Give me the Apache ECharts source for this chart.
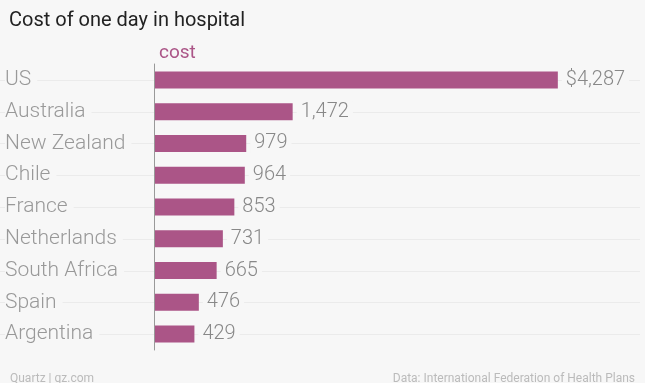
<!DOCTYPE html>
<html><head><meta charset="utf-8">
<script src="https://cdn.jsdelivr.net/npm/echarts@6/dist/echarts.min.js"></script>
<style>html,body{margin:0;padding:0;background:#f7f7f7}#c{width:645px;height:383px}</style>
</head><body><div id="c"></div>
<script>
const categories = ["US","Australia","New Zealand","Chile","France","Netherlands","South Africa","Spain","Argentina"];
const costs = [4287,1472,979,964,853,731,665,476,429];
const seriesName = "cost";
const BG = '#f7f7f7';
const BAR = '#ab5587';
const chart = echarts.init(document.getElementById('c'));
chart.setOption({
  backgroundColor: BG,
  animation: false,
  title: [
    {text: 'Cost of one day in hospital', left: 4, top: 6, textStyle: {fontFamily: 'Roboto', fontSize: 20, fontWeight: 'normal', color: '#222'}},
    {text: seriesName, left: 154, top: 39, textStyle: {fontFamily: 'Roboto', fontSize: 19, fontWeight: 'normal', color: BAR}},
    {text: 'Quartz | qz.com', left: 5, top: 368, textStyle: {fontFamily: 'Roboto', fontSize: 12, fontWeight: 'normal', color: '#bbb'}},
    {text: 'Data: International Federation of Health Plans', right: 5, top: 368, textStyle: {fontFamily: 'Roboto', fontSize: 12, fontWeight: 'normal', color: '#bbb'}}
  ],
  grid: {left: 154, right: 20, top: 64, bottom: 33, containLabel: false},
  xAxis: {type: 'value', min: 0, max: 5000, show: false},
  yAxis: {
    type: 'category', data: categories, inverse: true, z: 5,
    axisLine: {show: true, lineStyle: {color: '#999', width: 1}},
    axisTick: {show: false},
    splitLine: {show: false},
    axisLabel: {align: 'left', margin: 149, fontFamily: 'Roboto', fontSize: 21, fontWeight: 300, color: '#999',
      backgroundColor: BG, padding: [0, 6, 0, 0]}
  },
  series: [
    {
      type: 'custom', z: 1, silent: true,
      data: categories.map((c, i) => [0, i]),
      renderItem: function (params, api) {
        const y = Math.round(api.coord([0, api.value(1)])[1]) + 0.5;
        return {type: 'line', shape: {x1: 0, y1: y, x2: api.getWidth() - 5, y2: y},
          style: {stroke: '#ebebeb', lineWidth: 1}};
      },
      clip: false
    },
    {
      type: 'bar', name: seriesName, data: costs, barWidth: 17, z: 3,
      itemStyle: {color: BAR},
      label: {show: true, position: 'right', distance: 4, fontFamily: 'Roboto', fontSize: 20, fontWeight: 300,
        color: '#888', backgroundColor: BG, padding: [0, 4, 0, 4],
        formatter: p => (p.dataIndex === 0 ? '$' : '') + p.value.toLocaleString('en-US')}
    }
  ]
});
</script></body></html>
